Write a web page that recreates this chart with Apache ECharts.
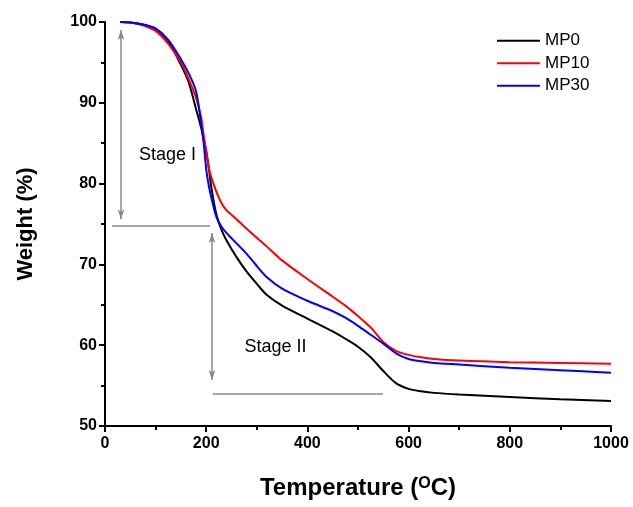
<!DOCTYPE html>
<html>
<head>
<meta charset="utf-8">
<script src="https://cdn.jsdelivr.net/npm/echarts@6/dist/echarts.min.js"></script>
<style>html,body{margin:0;padding:0;background:#fff;}#c{width:633px;height:507px;}</style>
</head>
<body>
<div id="c"></div>
<script>
var temps = [30,50,75,100,125,150,165,180,190,195,200,205,210,220,230,240,260,280,300,320,350,400,450,475,500,525,550,575,600,625,650,700,800,900,1000];
var mp0  = [100,99.95,99.7,99.1,97.6,94.7,92.6,89.2,86.9,85.5,84.0,82.0,79.6,76.2,74.3,73.0,70.9,69.1,67.6,66.2,64.9,63.3,61.7,60.8,59.8,58.5,56.8,55.3,54.6,54.3,54.1,53.9,53.6,53.3,53.1];
var mp10 = [100,99.95,99.6,98.9,97.3,95.0,93.0,90.6,88.2,86.0,84.0,82.0,80.8,79.0,77.6,76.7,75.6,74.4,73.3,72.2,70.5,68.2,66.0,64.9,63.6,62.2,60.4,59.3,58.8,58.5,58.3,58.1,57.9,57.8,57.7];
var mp30 = [100,99.95,99.7,99.2,97.8,95.4,93.7,91.4,87.4,85.0,81.8,79.8,78.3,75.9,74.7,73.9,72.6,71.3,69.8,68.4,67.0,65.5,64.2,63.4,62.4,61.3,60.2,59.0,58.3,58.0,57.8,57.6,57.2,56.9,56.6];
var seriesNames = ['MP0','MP10','MP30'];
var seriesColors = ['#000000','#ff0000','#0000ff'];
var xTicks = [0,200,400,600,800,1000];
var yTicks = [50,60,70,80,90,100];
// annotation lines (data coordinates)
var stage1Arrow = [[31.6,99.0],[31.6,75.6]];
var stage1Line  = [[13.8,74.75],[207.5,74.75]];
var stage2Arrow = [[211.5,73.9],[211.5,55.7]];
var stage2Line  = [[213,54.0],[549,54.0]];
var stageLabels = [{text:'Stage I', x:123.5, y:83.5},{text:'Stage II', x:337, y:59.8}];

function pairs(xs, ys){ return xs.map(function(x,i){return [x, ys[i]];}); }
var FONT = "Arial, 'Liberation Sans', sans-serif";
var chart = echarts.init(document.getElementById('c'), null, {renderer:'canvas'});
var allSeries = [mp0, mp10, mp30].map(function(vals, i){
  return {
    name: seriesNames[i], type:'line', data: pairs(temps, vals),
    showSymbol:false, smooth:0.3,
    lineStyle:{color:seriesColors[i], width:2}, itemStyle:{color:seriesColors[i]},
    z: 3 + i, animation:false
  };
});
var gray = '#888888';
allSeries[0].markLine = {
  silent:true, animation:false,
  label:{show:false},
  lineStyle:{color:gray, width:1.5, type:'solid'},
  data:[
    [{coord:stage1Arrow[0], symbol:'arrow', symbolSize:[5,10]},{coord:stage1Arrow[1], symbol:'arrow', symbolSize:[5,10]}],
    [{coord:stage1Line[0], symbol:'none'},{coord:stage1Line[1], symbol:'none'}],
    [{coord:stage2Arrow[0], symbol:'arrow', symbolSize:[5,10]},{coord:stage2Arrow[1], symbol:'arrow', symbolSize:[5,10]}],
    [{coord:stage2Line[0], symbol:'none'},{coord:stage2Line[1], symbol:'none'}]
  ]
};
chart.setOption({
  animation:false,
  backgroundColor:'#ffffff',
  textStyle:{fontFamily:FONT},
  grid:{left:105, right:22, top:22, bottom:81, containLabel:false},
  legend:{
    data:seriesNames, orient:'vertical', left:492, top:26,
    icon:'rect', itemWidth:43, itemHeight:2, itemGap:3,
    textStyle:{fontSize:17, color:'#000', fontFamily:FONT, lineHeight:19.5}
  },
  xAxis:{
    type:'value', min:0, max:1000, interval:200,
    name:'Temperature ({sup|O}C)', nameLocation:'middle', nameGap:50,
    nameTextStyle:{fontSize:24, fontWeight:'bold', color:'#000', fontFamily:FONT,
      rich:{sup:{fontSize:16, fontWeight:'bold', color:'#000', fontFamily:FONT, verticalAlign:'top', padding:[0,0,8,0]}}},
    axisLine:{show:true, onZero:false, lineStyle:{color:'#000', width:2}},
    axisTick:{show:true, inside:false, length:6, lineStyle:{color:'#000', width:2}},
    minorTick:{show:true, splitNumber:2, length:4, lineStyle:{color:'#000', width:2}},
    splitLine:{show:false},
    axisLabel:{fontSize:16, fontWeight:'bold', color:'#000', margin:10, fontFamily:FONT,
      formatter:function(v){ return xTicks.indexOf(v) >= 0 ? String(v) : ''; }}
  },
  yAxis:{
    type:'value', min:50, max:100, interval:10,
    name:'Weight (%)', nameLocation:'middle', nameGap:68,
    nameTextStyle:{fontSize:22, fontWeight:'bold', color:'#000', fontFamily:FONT},
    axisLine:{show:true, onZero:false, lineStyle:{color:'#000', width:2}},
    axisTick:{show:true, inside:false, length:6, lineStyle:{color:'#000', width:2}},
    minorTick:{show:true, splitNumber:2, length:4, lineStyle:{color:'#000', width:2}},
    splitLine:{show:false},
    axisLabel:{fontSize:16, fontWeight:'bold', color:'#000', margin:8, fontFamily:FONT,
      formatter:function(v){ return yTicks.indexOf(v) >= 0 ? String(v) : ''; }}
  },
  series: allSeries
});
var g = stageLabels.map(function(l){
  var p = chart.convertToPixel({gridIndex:0}, [l.x, l.y]);
  return {type:'text', x:p[0], y:p[1], style:{text:l.text, fontSize:18, fontFamily:FONT, fill:'#000', align:'center', verticalAlign:'middle'}, silent:true, z:10};
});
chart.setOption({graphic:g});
</script>
</body>
</html>
